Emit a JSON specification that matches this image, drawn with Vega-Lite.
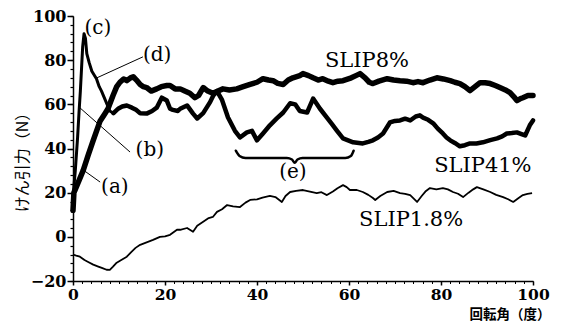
{
  "$schema": "https://vega.github.io/schema/vega-lite/v6.json",
  "width": 460,
  "height": 265,
  "autosize": {"type": "none"},
  "padding": {"left": 73, "top": 16, "right": 29, "bottom": 41},
  "background": "white",
  "config": {"view": {"stroke": null}},
  "datasets": {
    "curves": [
      {"s":"SLIP8%","x":0,"y":12},{"s":"SLIP8%","x":0.2,"y":20},{"s":"SLIP8%","x":1,"y":24},{"s":"SLIP8%","x":2.2,"y":30},{"s":"SLIP8%","x":3.3,"y":37},{"s":"SLIP8%","x":4.4,"y":43.7},{"s":"SLIP8%","x":5.9,"y":52.5},{"s":"SLIP8%","x":7,"y":56},{"s":"SLIP8%","x":7.6,"y":58},{"s":"SLIP8%","x":8.7,"y":64},{"s":"SLIP8%","x":9.5,"y":68},{"s":"SLIP8%","x":10.2,"y":70},{"s":"SLIP8%","x":11,"y":71.5},{"s":"SLIP8%","x":11.7,"y":70.7},{"s":"SLIP8%","x":12.5,"y":72},{"s":"SLIP8%","x":13.1,"y":72.5},{"s":"SLIP8%","x":13.8,"y":71},{"s":"SLIP8%","x":14.6,"y":69},{"s":"SLIP8%","x":15.3,"y":68},{"s":"SLIP8%","x":16,"y":67.6},{"s":"SLIP8%","x":17,"y":66},{"s":"SLIP8%","x":18.2,"y":67},{"s":"SLIP8%","x":19.2,"y":68},{"s":"SLIP8%","x":20.4,"y":68.5},{"s":"SLIP8%","x":21.1,"y":68.5},{"s":"SLIP8%","x":22.2,"y":67},{"s":"SLIP8%","x":23.3,"y":67},{"s":"SLIP8%","x":24.3,"y":66},{"s":"SLIP8%","x":25.4,"y":65},{"s":"SLIP8%","x":26.5,"y":63},{"s":"SLIP8%","x":27.3,"y":64},{"s":"SLIP8%","x":28.3,"y":67.6},{"s":"SLIP8%","x":29.3,"y":66},{"s":"SLIP8%","x":30.4,"y":65},{"s":"SLIP8%","x":31.5,"y":66},{"s":"SLIP8%","x":32.6,"y":67},{"s":"SLIP8%","x":34,"y":66.5},{"s":"SLIP8%","x":35.6,"y":67},{"s":"SLIP8%","x":37,"y":68},{"s":"SLIP8%","x":38.5,"y":69},{"s":"SLIP8%","x":40,"y":70},{"s":"SLIP8%","x":41.3,"y":71.6},{"s":"SLIP8%","x":42.5,"y":71},{"s":"SLIP8%","x":43.5,"y":70.7},{"s":"SLIP8%","x":44.5,"y":69.5},{"s":"SLIP8%","x":45.7,"y":69},{"s":"SLIP8%","x":46.8,"y":71},{"s":"SLIP8%","x":47.8,"y":72},{"s":"SLIP8%","x":49.3,"y":73},{"s":"SLIP8%","x":50,"y":73.9},{"s":"SLIP8%","x":51.2,"y":73},{"s":"SLIP8%","x":52.2,"y":72},{"s":"SLIP8%","x":53.3,"y":71},{"s":"SLIP8%","x":54.3,"y":71.6},{"s":"SLIP8%","x":55.5,"y":70.5},{"s":"SLIP8%","x":56.5,"y":69.8},{"s":"SLIP8%","x":57.6,"y":70.5},{"s":"SLIP8%","x":58.7,"y":70.7},{"s":"SLIP8%","x":60.5,"y":72},{"s":"SLIP8%","x":61.5,"y":73},{"s":"SLIP8%","x":62.4,"y":73.9},{"s":"SLIP8%","x":63.5,"y":72},{"s":"SLIP8%","x":64.4,"y":70},{"s":"SLIP8%","x":65.2,"y":69.4},{"s":"SLIP8%","x":66.5,"y":70.5},{"s":"SLIP8%","x":68.3,"y":71.6},{"s":"SLIP8%","x":69.7,"y":71},{"s":"SLIP8%","x":71.1,"y":70.7},{"s":"SLIP8%","x":72.5,"y":70.5},{"s":"SLIP8%","x":73.9,"y":69.8},{"s":"SLIP8%","x":75,"y":70.3},{"s":"SLIP8%","x":76.1,"y":69.8},{"s":"SLIP8%","x":77.6,"y":71},{"s":"SLIP8%","x":79.1,"y":72},{"s":"SLIP8%","x":80.5,"y":71.5},{"s":"SLIP8%","x":82,"y":70.7},{"s":"SLIP8%","x":83,"y":70},{"s":"SLIP8%","x":84.1,"y":69.4},{"s":"SLIP8%","x":85.2,"y":68},{"s":"SLIP8%","x":86.3,"y":66.2},{"s":"SLIP8%","x":87.4,"y":68},{"s":"SLIP8%","x":88.5,"y":69.8},{"s":"SLIP8%","x":89.6,"y":69.8},{"s":"SLIP8%","x":90.7,"y":69.4},{"s":"SLIP8%","x":91.8,"y":68.5},{"s":"SLIP8%","x":92.8,"y":67.6},{"s":"SLIP8%","x":94,"y":66.5},{"s":"SLIP8%","x":95,"y":65.3},{"s":"SLIP8%","x":95.8,"y":63.5},{"s":"SLIP8%","x":96.5,"y":61.7},{"s":"SLIP8%","x":97.2,"y":62.5},{"s":"SLIP8%","x":97.8,"y":63},{"s":"SLIP8%","x":98.9,"y":64},{"s":"SLIP8%","x":100,"y":64},
      {"s":"SLIP41%","x":0,"y":18},{"s":"SLIP41%","x":0.5,"y":30},{"s":"SLIP41%","x":1,"y":45},{"s":"SLIP41%","x":1.3,"y":56},{"s":"SLIP41%","x":1.6,"y":66},{"s":"SLIP41%","x":1.9,"y":78},{"s":"SLIP41%","x":2.1,"y":86},{"s":"SLIP41%","x":2.4,"y":92},{"s":"SLIP41%","x":2.7,"y":90},{"s":"SLIP41%","x":3,"y":83},{"s":"SLIP41%","x":3.5,"y":79},{"s":"SLIP41%","x":4.1,"y":75},{"s":"SLIP41%","x":5.1,"y":71.6},{"s":"SLIP41%","x":5.7,"y":68},{"s":"SLIP41%","x":6.2,"y":66},{"s":"SLIP41%","x":7,"y":62},{"s":"SLIP41%","x":8,"y":57},{"s":"SLIP41%","x":8.8,"y":56},{"s":"SLIP41%","x":9.8,"y":58},{"s":"SLIP41%","x":10.7,"y":59},{"s":"SLIP41%","x":11.7,"y":59.5},{"s":"SLIP41%","x":12.8,"y":58.5},{"s":"SLIP41%","x":13.7,"y":57.5},{"s":"SLIP41%","x":14.6,"y":56},{"s":"SLIP41%","x":16,"y":55.8},{"s":"SLIP41%","x":17.2,"y":57},{"s":"SLIP41%","x":18.2,"y":58.5},{"s":"SLIP41%","x":19.3,"y":63},{"s":"SLIP41%","x":20.4,"y":61.7},{"s":"SLIP41%","x":21.1,"y":58},{"s":"SLIP41%","x":21.7,"y":57.5},{"s":"SLIP41%","x":22.8,"y":57},{"s":"SLIP41%","x":23.3,"y":58},{"s":"SLIP41%","x":24.8,"y":59.5},{"s":"SLIP41%","x":26.1,"y":55.8},{"s":"SLIP41%","x":27,"y":53.6},{"s":"SLIP41%","x":28.3,"y":56},{"s":"SLIP41%","x":29.8,"y":61},{"s":"SLIP41%","x":30.5,"y":64},{"s":"SLIP41%","x":31.3,"y":66},{"s":"SLIP41%","x":32.4,"y":62},{"s":"SLIP41%","x":33.7,"y":54},{"s":"SLIP41%","x":35.2,"y":48},{"s":"SLIP41%","x":36.3,"y":45},{"s":"SLIP41%","x":37.8,"y":47.3},{"s":"SLIP41%","x":38.9,"y":48},{"s":"SLIP41%","x":40,"y":43.7},{"s":"SLIP41%","x":41.3,"y":46.8},{"s":"SLIP41%","x":42.8,"y":50.5},{"s":"SLIP41%","x":44.3,"y":53.6},{"s":"SLIP41%","x":45.7,"y":56.3},{"s":"SLIP41%","x":47.2,"y":60.5},{"s":"SLIP41%","x":48.3,"y":60},{"s":"SLIP41%","x":49.3,"y":57},{"s":"SLIP41%","x":50.9,"y":56.3},{"s":"SLIP41%","x":52.2,"y":62.6},{"s":"SLIP41%","x":53.7,"y":58},{"s":"SLIP41%","x":55.2,"y":54},{"s":"SLIP41%","x":56.3,"y":51},{"s":"SLIP41%","x":57.4,"y":48},{"s":"SLIP41%","x":58.7,"y":44.6},{"s":"SLIP41%","x":60.9,"y":42.8},{"s":"SLIP41%","x":63,"y":42.3},{"s":"SLIP41%","x":64.2,"y":43},{"s":"SLIP41%","x":65.2,"y":43.7},{"s":"SLIP41%","x":66.3,"y":45},{"s":"SLIP41%","x":67.4,"y":46.8},{"s":"SLIP41%","x":68.9,"y":51.8},{"s":"SLIP41%","x":70,"y":52.5},{"s":"SLIP41%","x":71.1,"y":52.7},{"s":"SLIP41%","x":72.2,"y":53.5},{"s":"SLIP41%","x":73.3,"y":52.7},{"s":"SLIP41%","x":74.5,"y":54.5},{"s":"SLIP41%","x":75.4,"y":55},{"s":"SLIP41%","x":76.1,"y":54},{"s":"SLIP41%","x":77.2,"y":53},{"s":"SLIP41%","x":78.3,"y":51.4},{"s":"SLIP41%","x":79.3,"y":49},{"s":"SLIP41%","x":80.4,"y":46.8},{"s":"SLIP41%","x":81.2,"y":45},{"s":"SLIP41%","x":82,"y":43.7},{"s":"SLIP41%","x":83,"y":42.5},{"s":"SLIP41%","x":84.1,"y":41},{"s":"SLIP41%","x":85.2,"y":41.5},{"s":"SLIP41%","x":86.3,"y":42.3},{"s":"SLIP41%","x":87.7,"y":42.3},{"s":"SLIP41%","x":89.1,"y":42.8},{"s":"SLIP41%","x":90.7,"y":43.8},{"s":"SLIP41%","x":92.2,"y":44.6},{"s":"SLIP41%","x":93.3,"y":45.5},{"s":"SLIP41%","x":94.3,"y":46.8},{"s":"SLIP41%","x":95.4,"y":47},{"s":"SLIP41%","x":96.5,"y":47.3},{"s":"SLIP41%","x":97.5,"y":46.5},{"s":"SLIP41%","x":98.3,"y":45.9},{"s":"SLIP41%","x":99.3,"y":50.5},{"s":"SLIP41%","x":100,"y":52.7},
      {"s":"SLIP1.8%","x":0,"y":-8},{"s":"SLIP1.8%","x":0.7,"y":-8.5},{"s":"SLIP1.8%","x":1.5,"y":-9},{"s":"SLIP1.8%","x":2.5,"y":-10.5},{"s":"SLIP1.8%","x":3.4,"y":-11.5},{"s":"SLIP1.8%","x":4.4,"y":-12.6},{"s":"SLIP1.8%","x":5.5,"y":-13.5},{"s":"SLIP1.8%","x":6.4,"y":-14.2},{"s":"SLIP1.8%","x":7.3,"y":-14.9},{"s":"SLIP1.8%","x":8,"y":-15},{"s":"SLIP1.8%","x":8.7,"y":-13.5},{"s":"SLIP1.8%","x":9.5,"y":-11.7},{"s":"SLIP1.8%","x":10.5,"y":-10.5},{"s":"SLIP1.8%","x":11.7,"y":-9},{"s":"SLIP1.8%","x":12.6,"y":-7},{"s":"SLIP1.8%","x":13.6,"y":-5},{"s":"SLIP1.8%","x":14.6,"y":-3.6},{"s":"SLIP1.8%","x":16,"y":-2.5},{"s":"SLIP1.8%","x":17.4,"y":-1.4},{"s":"SLIP1.8%","x":18.9,"y":0},{"s":"SLIP1.8%","x":20,"y":0.2},{"s":"SLIP1.8%","x":21.1,"y":0.9},{"s":"SLIP1.8%","x":22.6,"y":3.2},{"s":"SLIP1.8%","x":23.3,"y":3.2},{"s":"SLIP1.8%","x":24.8,"y":4},{"s":"SLIP1.8%","x":26.1,"y":2.3},{"s":"SLIP1.8%","x":27,"y":5},{"s":"SLIP1.8%","x":28.3,"y":6.8},{"s":"SLIP1.8%","x":29.5,"y":8.5},{"s":"SLIP1.8%","x":30.4,"y":9},{"s":"SLIP1.8%","x":31.3,"y":11.3},{"s":"SLIP1.8%","x":32.4,"y":12.5},{"s":"SLIP1.8%","x":33.5,"y":14.4},{"s":"SLIP1.8%","x":34.8,"y":13.8},{"s":"SLIP1.8%","x":36.3,"y":13.5},{"s":"SLIP1.8%","x":37.5,"y":15.5},{"s":"SLIP1.8%","x":38.5,"y":16.7},{"s":"SLIP1.8%","x":40,"y":17},{"s":"SLIP1.8%","x":41.2,"y":17.8},{"s":"SLIP1.8%","x":42.8,"y":18.5},{"s":"SLIP1.8%","x":44,"y":18},{"s":"SLIP1.8%","x":45.4,"y":15.8},{"s":"SLIP1.8%","x":46.2,"y":18.5},{"s":"SLIP1.8%","x":47.2,"y":20.3},{"s":"SLIP1.8%","x":48.5,"y":20.8},{"s":"SLIP1.8%","x":50,"y":21.2},{"s":"SLIP1.8%","x":51.5,"y":20.5},{"s":"SLIP1.8%","x":53,"y":19.8},{"s":"SLIP1.8%","x":54,"y":20.2},{"s":"SLIP1.8%","x":55.2,"y":18.9},{"s":"SLIP1.8%","x":56.5,"y":20.5},{"s":"SLIP1.8%","x":57.5,"y":22},{"s":"SLIP1.8%","x":58.7,"y":23.4},{"s":"SLIP1.8%","x":59.5,"y":22.5},{"s":"SLIP1.8%","x":60.2,"y":21.2},{"s":"SLIP1.8%","x":61.7,"y":21.2},{"s":"SLIP1.8%","x":63,"y":20.3},{"s":"SLIP1.8%","x":64.2,"y":19},{"s":"SLIP1.8%","x":65.2,"y":17.6},{"s":"SLIP1.8%","x":65.7,"y":16.7},{"s":"SLIP1.8%","x":66.8,"y":18.5},{"s":"SLIP1.8%","x":68.3,"y":20.3},{"s":"SLIP1.8%","x":69.7,"y":20.8},{"s":"SLIP1.8%","x":71.1,"y":19.8},{"s":"SLIP1.8%","x":72.2,"y":19.5},{"s":"SLIP1.8%","x":73.3,"y":18.9},{"s":"SLIP1.8%","x":74.8,"y":15.8},{"s":"SLIP1.8%","x":75.8,"y":18.5},{"s":"SLIP1.8%","x":76.6,"y":20.5},{"s":"SLIP1.8%","x":77.6,"y":22.1},{"s":"SLIP1.8%","x":79,"y":21.5},{"s":"SLIP1.8%","x":80.4,"y":22.1},{"s":"SLIP1.8%","x":81.5,"y":21.5},{"s":"SLIP1.8%","x":82.6,"y":20.3},{"s":"SLIP1.8%","x":83.7,"y":19.5},{"s":"SLIP1.8%","x":84.8,"y":18},{"s":"SLIP1.8%","x":86,"y":20},{"s":"SLIP1.8%","x":87,"y":21.5},{"s":"SLIP1.8%","x":87.8,"y":22.5},{"s":"SLIP1.8%","x":89.2,"y":21.5},{"s":"SLIP1.8%","x":90.7,"y":20.3},{"s":"SLIP1.8%","x":92,"y":19},{"s":"SLIP1.8%","x":93.5,"y":18},{"s":"SLIP1.8%","x":94.6,"y":17},{"s":"SLIP1.8%","x":95.7,"y":15.8},{"s":"SLIP1.8%","x":96.8,"y":17.5},{"s":"SLIP1.8%","x":97.8,"y":18.9},{"s":"SLIP1.8%","x":98.8,"y":19.5},{"s":"SLIP1.8%","x":99.8,"y":19.8}
    ],
    "letters": [
      {"t":"(c)","x":5.4,"y":94.5},
      {"t":"(d)","x":18.3,"y":82.3},
      {"t":"(b)","x":16.7,"y":39.3},
      {"t":"(a)","x":9.1,"y":22.6},
      {"t":"(e)","x":47.8,"y":29.3}
    ],
    "names": [
      {"t":"SLIP8%","x":63.9,"y":79.6},
      {"t":"SLIP41%","x":89.1,"y":32},
      {"t":"SLIP1.8%","x":73.5,"y":7.6}
    ],
    "leaders": [
      {"x":15.2,"y":81.5,"x2":5.2,"y2":72},
      {"x":12.4,"y":38.4,"x2":1.3,"y2":58.8},
      {"x":5.9,"y":24.8,"x2":2.2,"y2":30.3}
    ],
    "brace": [
      {"x":35.4,"y":39.0},{"x":36.2,"y":36.6},{"x":37.5,"y":35.7},{"x":46.5,"y":35.7},{"x":47.6,"y":35.0},{"x":48.2,"y":33.5},{"x":48.8,"y":35.0},{"x":49.9,"y":35.7},{"x":59.2,"y":35.7},{"x":60.4,"y":36.6},{"x":61.0,"y":39.0}
    ]
  },
  "resolve": {"axis": {"x": "independent", "y": "independent"}},
  "layer": [
    {
      "data": {"name": "curves"},
      "transform": [{"filter": "datum.s === 'SLIP8%'"}],
      "mark": {"type": "line", "color": "black", "strokeWidth": 5.5, "strokeJoin": "round", "strokeCap": "round"},
      "encoding": {
        "x": {"field": "x", "type": "quantitative", "scale": {"domain": [0, 100], "nice": false, "zero": false},
          "axis": {"orient": "bottom", "values": [0,2,4,6,8,10,12,14,16,18,20,22,24,26,28,30,32,34,36,38,40,42,44,46,48,50,52,54,56,58,60,62,64,66,68,70,72,74,76,78,80,82,84,86,88,90,92,94,96,98,100], "labels": false, "domain": false, "grid": false, "tickSize": 2.5, "tickWidth": 1, "tickColor": "black", "title": null}},
        "y": {"field": "y", "type": "quantitative", "scale": {"domain": [-20, 100], "nice": false, "zero": false},
          "axis": {"orient": "left", "values": [-20,-16,-12,-8,-4,0,4,8,12,16,20,24,28,32,36,40,44,48,52,56,60,64,68,72,76,80,84,88,92,96,100], "labels": false, "domain": false, "grid": false, "tickSize": 3, "tickWidth": 1.2, "tickColor": "black", "title": null}}
      }
    },
    {
      "data": {"name": "curves"},
      "transform": [{"filter": "datum.s === 'SLIP41%' && datum.x <= 9"}],
      "mark": {"type": "line", "color": "black", "strokeWidth": 3, "strokeJoin": "round", "strokeCap": "round"},
      "encoding": {
        "x": {"field": "x", "type": "quantitative", "scale": {"domain": [0, 100], "nice": false, "zero": false},
          "axis": {"orient": "bottom", "values": [0, 20, 40, 60, 80, 100], "grid": false, "domainColor": "black", "domainWidth": 1.5, "tickColor": "black", "tickWidth": 1.5, "tickSize": 4, "labelPadding": 2, "labelFont": "DejaVu Serif", "labelFontSize": 15.5, "labelFontWeight": "bold", "labelColor": "black", "labelFlush": false, "labelOverlap": false,
            "title": "回転角（度）", "titleFont": "Noto Sans CJK JP", "titleFontSize": 13.5, "titleFontWeight": "bold", "titleColor": "black", "titleX": 477, "titleY": 37.5, "titleAlign": "right", "titleBaseline": "alphabetic", "titleAnchor": null}},
        "y": {"field": "y", "type": "quantitative", "scale": {"domain": [-20, 100], "nice": false, "zero": false},
          "axis": {"orient": "left", "values": [-20, 0, 20, 40, 60, 80, 100], "grid": false, "domainColor": "black", "domainWidth": 1.5, "tickColor": "black", "tickWidth": 1.5, "tickSize": 6, "labelPadding": 1, "labelFont": "DejaVu Serif", "labelFontSize": 16, "labelFontWeight": "bold", "labelColor": "black", "labelFlush": false, "labelOverlap": false,
            "title": "けん引力（N）", "titleFont": "Noto Sans CJK JP", "titleFontSize": 16, "titleFontWeight": "normal", "titleColor": "black", "titleX": -51, "titleY": 142, "titleAngle": -90, "titleAlign": "center", "titleBaseline": "middle"}}
      }
    },
    {
      "data": {"name": "curves"},
      "transform": [{"filter": "datum.s === 'SLIP41%' && datum.x >= 8.8"}],
      "mark": {"type": "line", "color": "black", "strokeWidth": 4.5, "strokeJoin": "round", "strokeCap": "round"},
      "encoding": {
        "x": {"field": "x", "type": "quantitative", "axis": null},
        "y": {"field": "y", "type": "quantitative", "axis": null}
      }
    },
    {
      "data": {"name": "curves"},
      "transform": [{"filter": "datum.s === 'SLIP1.8%'"}],
      "mark": {"type": "line", "color": "black", "strokeWidth": 1.8, "strokeJoin": "round"},
      "encoding": {
        "x": {"field": "x", "type": "quantitative", "axis": null},
        "y": {"field": "y", "type": "quantitative", "axis": null}
      }
    },
    {
      "data": {"name": "leaders"},
      "mark": {"type": "rule", "color": "black", "strokeWidth": 1},
      "encoding": {
        "x": {"field": "x", "type": "quantitative", "axis": null},
        "y": {"field": "y", "type": "quantitative", "axis": null},
        "x2": {"field": "x2"},
        "y2": {"field": "y2"}
      }
    },
    {
      "data": {"name": "brace"},
      "mark": {"type": "line", "color": "black", "strokeWidth": 2.5, "interpolate": "monotone", "strokeCap": "round"},
      "encoding": {
        "x": {"field": "x", "type": "quantitative", "axis": null},
        "y": {"field": "y", "type": "quantitative", "axis": null}
      }
    },
    {
      "data": {"name": "letters"},
      "mark": {"type": "text", "font": "DejaVu Serif", "fontSize": 20, "color": "black", "align": "center", "baseline": "middle"},
      "encoding": {
        "x": {"field": "x", "type": "quantitative", "axis": null},
        "y": {"field": "y", "type": "quantitative", "axis": null},
        "text": {"field": "t"}
      }
    },
    {
      "data": {"name": "names"},
      "mark": {"type": "text", "font": "DejaVu Serif", "fontSize": 21, "color": "black", "align": "center", "baseline": "middle"},
      "encoding": {
        "x": {"field": "x", "type": "quantitative", "axis": null},
        "y": {"field": "y", "type": "quantitative", "axis": null},
        "text": {"field": "t"}
      }
    }
  ]
}
